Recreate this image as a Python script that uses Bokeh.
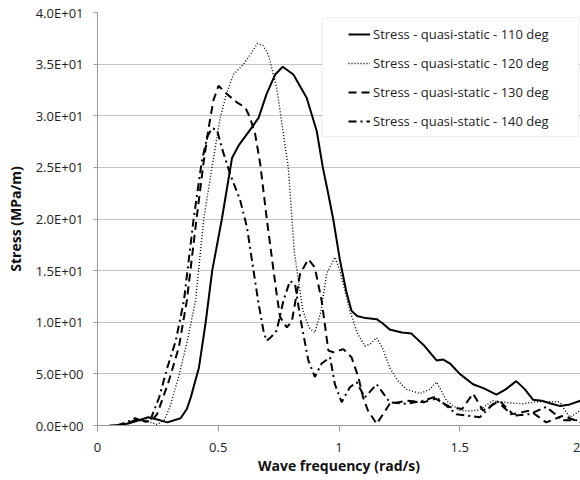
from bokeh.plotting import figure
from bokeh.models import (Range1d, FixedTicker, CustomJSTickFormatter, Legend,
                          LegendItem, BoxAnnotation)
from bokeh.embed import file_html
from bokeh.resources import INLINE

# ---- data ----
x_110 = [0.05, 0.10, 0.15, 0.21, 0.26, 0.289, 0.344, 0.37, 0.386, 0.42, 0.448, 0.475,
         0.515, 0.557, 0.584, 0.64, 0.667, 0.70, 0.736, 0.767, 0.811, 0.866, 0.908,
         0.933, 0.955, 0.976, 1.004, 1.03, 1.052, 1.075, 1.11, 1.156, 1.18, 1.21,
         1.26, 1.30, 1.35, 1.404, 1.43, 1.46, 1.50, 1.555, 1.60, 1.652, 1.69, 1.734,
         1.77, 1.803, 1.84, 1.88, 1.913, 1.95, 2.0]
y_110 = [0.0, 0.05, 0.35, 0.8, 0.5, 0.3, 0.7, 1.6, 2.7, 5.6, 10.0, 15.0,
         20.0, 25.9, 27.1, 28.9, 29.8, 32.1, 34.0, 34.75, 34.0, 31.75, 28.5,
         25.0, 22.5, 20.0, 16.0, 13.0, 11.1, 10.6, 10.4, 10.3, 9.9, 9.3,
         9.0, 8.9, 7.8, 6.3, 6.4, 6.0, 5.0, 4.0, 3.6, 3.0, 3.5, 4.3,
         3.5, 2.5, 2.4, 2.1, 1.9, 2.0, 2.4]

x_120 = [0.10, 0.14, 0.18, 0.22, 0.247, 0.276, 0.30, 0.337, 0.372, 0.406, 0.44, 0.474,
         0.508, 0.535, 0.563, 0.605, 0.635, 0.662, 0.685, 0.708, 0.742, 0.765, 0.79,
         0.815, 0.85, 0.875, 0.90, 0.925, 0.949, 0.983, 1.004, 1.025, 1.045, 1.075,
         1.107, 1.13, 1.156, 1.18, 1.21, 1.245, 1.28, 1.335, 1.375, 1.404, 1.425,
         1.445, 1.50, 1.54, 1.58, 1.637, 1.70, 1.76, 1.82, 1.87, 1.913, 1.955, 2.0]
y_120 = [0.0, 0.2, 0.55, 0.3, 0.1, 0.5, 1.8, 4.8, 8.2, 12.1, 20.0, 25.0,
         29.8, 32.2, 34.0, 35.0, 36.0, 37.0, 36.8, 35.9, 32.7, 29.0, 25.0,
         16.8, 11.2, 9.5, 9.0, 11.0, 14.7, 16.3, 15.0, 13.0, 11.1, 9.0,
         7.7, 7.9, 8.5, 7.5, 5.6, 4.3, 3.5, 3.1, 3.5, 4.2, 3.3,
         2.4, 1.45, 1.4, 1.5, 2.4, 2.2, 2.1, 2.3, 2.3, 2.3, 0.8, 1.45]

x_130 = [0.08, 0.12, 0.17, 0.20, 0.225, 0.247, 0.296, 0.337, 0.37, 0.41, 0.44, 0.46,
         0.48, 0.501, 0.536, 0.577, 0.612, 0.632, 0.653, 0.674, 0.701, 0.729, 0.742,
         0.756, 0.784, 0.805, 0.839, 0.873, 0.90, 0.928, 0.956, 0.977, 1.018, 1.052,
         1.08, 1.10, 1.12, 1.156, 1.21, 1.28, 1.35, 1.40, 1.459, 1.51, 1.555, 1.596,
         1.665, 1.72, 1.79, 1.858, 1.927, 2.0]
y_130 = [0.0, 0.2, 0.65, 0.35, 0.5, 1.1, 4.35, 7.6, 12.1, 20.0, 25.6, 28.8,
         31.5, 32.9, 32.1, 31.3, 30.8, 29.8, 28.2, 25.3, 20.0, 15.0, 12.7,
         10.5, 9.5, 10.1, 14.7, 16.1, 15.3, 12.1, 7.25, 7.1, 7.4, 6.6,
         4.7, 2.7, 1.45, 0.15, 2.1, 2.4, 2.25, 2.6, 1.8, 1.6, 3.1, 1.45,
         2.4, 1.1, 1.45, 0.3, 0.95, 0.3]

x_140 = [0.08, 0.12, 0.155, 0.19, 0.22, 0.255, 0.289, 0.324, 0.358, 0.398, 0.432, 0.455,
         0.475, 0.495, 0.52, 0.55, 0.591, 0.619, 0.646, 0.667, 0.687, 0.70, 0.72,
         0.742, 0.77, 0.797, 0.818, 0.839, 0.873, 0.90, 0.928, 0.963, 0.983, 1.011,
         1.045, 1.073, 1.107, 1.156, 1.21, 1.28, 1.35, 1.40, 1.486, 1.583, 1.652,
         1.72, 1.79, 1.858, 1.927, 2.0]
y_140 = [0.0, 0.3, 0.7, 0.4, 0.6, 2.7, 5.6, 8.2, 12.1, 20.0, 25.6, 28.0,
         28.8, 28.6, 26.5, 24.3, 21.8, 19.2, 15.0, 11.8, 9.2, 8.2, 8.6,
         9.2, 12.1, 14.0, 13.7, 10.5, 6.3, 4.7, 6.0, 6.6, 4.0, 2.25,
         3.7, 4.2, 2.7, 4.0, 2.25, 2.1, 2.4, 2.8, 1.1, 0.8, 2.4,
         0.95, 1.1, 1.8, 0.5, 0.5]

series_labels = ["Stress - quasi-static - 110 deg", "Stress - quasi-static - 120 deg",
                 "Stress - quasi-static - 130 deg", "Stress - quasi-static - 140 deg"]
x_ticks = [0, 0.5, 1, 1.5, 2]
x_tick_labels = ["0", "0.5", "1", "1.5", "2"]
y_ticks = [0, 5, 10, 15, 20, 25, 30, 35, 40]
x_title = "Wave frequency (rad/s)"
y_title = "Stress (MPa/m)"

FONT = "Open Sans"

p = figure(width=580, height=480, output_backend="svg", toolbar_location=None,
           x_range=Range1d(0, 2), y_range=Range1d(0, 40),
           min_border_left=97, min_border_right=0, min_border_top=12,
           min_border_bottom=55)
p.outline_line_color = None
p.background_fill_color = "white"
p.border_fill_color = "white"

# grid
p.xgrid.visible = False
p.ygrid.grid_line_color = "#c4c4c4"
p.ygrid.grid_line_width = 1
p.ygrid.ticker = FixedTicker(ticks=y_ticks)

# axes
p.xaxis.ticker = FixedTicker(ticks=x_ticks)
p.xaxis.major_label_overrides = {t: l for t, l in zip(x_ticks, x_tick_labels)}
p.yaxis.ticker = FixedTicker(ticks=y_ticks)
p.yaxis.formatter = CustomJSTickFormatter(code="""
const s = tick.toExponential(1).toUpperCase();
const parts = s.split("E");
const e = parts[1];
return parts[0] + "E" + e[0] + e.slice(1).padStart(2, "0");
""")
for ax in (p.xaxis[0], p.yaxis[0]):
    ax.axis_line_color = "#9a9a9a"
    ax.major_tick_line_color = "#9a9a9a"
    ax.minor_tick_line_color = None
    ax.major_tick_in = 0
    ax.major_label_text_font = FONT
    ax.major_label_text_font_size = "13px"
    ax.major_label_text_color = "#222222"
    ax.axis_label_text_font = FONT
    ax.axis_label_text_font_size = "14px"
    ax.axis_label_text_font_style = "bold"
    ax.axis_label_text_color = "#111111"
p.xaxis.major_tick_out = 6
p.yaxis.major_tick_out = 4
p.xaxis.major_label_standoff = 11
p.yaxis.major_label_standoff = 10
p.xaxis.axis_label = x_title
p.yaxis.axis_label = y_title
p.xaxis.axis_label_standoff = 1
p.yaxis.axis_label_standoff = 8

r1 = p.line(x_110, y_110, line_color="black", line_width=2)
r2 = p.line(x_120, y_120, line_color="black", line_width=1.4, line_dash="1 2")
r3 = p.line(x_130, y_130, line_color="black", line_width=2, line_dash="8 5")
r4 = p.line(x_140, y_140, line_color="black", line_width=2, line_dash="8 4 2 4")

# legend frame
box = BoxAnnotation(left=0.930, right=1.993, bottom=27.99, top=39.49,
                    fill_color="white", fill_alpha=1.0,
                    line_color="#c4c4c4", line_width=1)
p.add_layout(box)

legend = Legend(items=[LegendItem(label=l, renderers=[r])
                       for l, r in zip(series_labels, [r1, r2, r3, r4])],
                location=(246, 289), orientation="vertical",
                padding=5, margin=0, spacing=9, glyph_width=22, glyph_height=20,
                label_height=20, label_standoff=3,
                label_text_font=FONT, label_text_font_size="13px",
                label_text_color="#222222",
                border_line_alpha=0, background_fill_alpha=0)
p.add_layout(legend)

open("out.html", "w").write(file_html(p, INLINE))
